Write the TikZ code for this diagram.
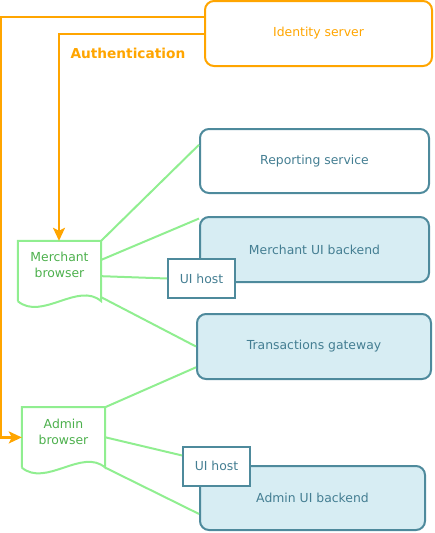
\documentclass[tikz,border=0pt]{standalone}
\usepackage{fontspec}
\setmainfont{DejaVu Sans}
\usepackage{tikz}
\usetikzlibrary{%
  shapes, arrows, calc, positioning, arrows.meta
}
\usepackage{xcolor}
\definecolor{authorange}{HTML}{FFA500}
\definecolor{svcline}{HTML}{4E8A9C}
\definecolor{svctext}{HTML}{447E92}
\definecolor{svcfill}{HTML}{D7EDF3}
\definecolor{webline}{HTML}{90EE90}
\definecolor{webtext}{HTML}{4DB04D}
\tikzstyle{snode} = [%
  rectangle,
  rounded corners=9pt,
  draw=svcline,
  line width=2pt,
  minimum height=64pt,
  align=center,
  text=svctext,
  text centered,
  font=\fontsize{12.4}{16}\selectfont
]
\tikzstyle{hnode} = [%
  rectangle,
  draw=svcline,
  fill=white,
  line width=2pt,
  minimum width=67pt,
  minimum height=39pt,
  text=svctext,
  font=\fontsize{12.4}{16}\selectfont
]
\tikzstyle{bnode} = [%
  rectangle,
  minimum width=83pt,
  minimum height=48pt,
  inner sep=0pt,
  align=center,
  text=webtext,
  font=\fontsize{12.4}{16}\selectfont
]

\begin{document}
\begin{tikzpicture}[%
  x=1pt, y=-1pt,
  web/.style={draw=webline, line width=2pt},
  auth/.style={color=authorange, line width=2.2pt,
    -{Stealth[length=13pt,width=12pt,inset=3pt]}},
  page/.style={draw=webline, line width=2pt}
]
  \useasboundingbox (0,0) rectangle (434,533);

  % Nodes
  \node[snode,draw=authorange,text=authorange,minimum width=227pt,minimum height=65pt] (ids) at (318.5,33.5) {Identity server};
  \node[snode,minimum width=229pt,below=61pt of ids,xshift=-4pt] (rep) {Reporting service};
  \node[snode,fill=svcfill,minimum width=229pt,minimum height=65pt,below=22pt of rep] (mub) {Merchant UI backend};
  \node[snode,fill=svcfill,minimum width=234pt,minimum height=65pt,below=30pt of mub,xshift=-0.5pt] (tg) {Transactions gateway};
  \node[snode,fill=svcfill,minimum width=225pt,below=85pt of tg,xshift=-1.5pt] (aub) {Admin UI backend};
  \node[hnode,xshift=2.5pt,yshift=4.5pt] (mh) at (mub.south west) {UI host};
  \node[hnode,xshift=17.5pt,yshift=-1pt] (ah) at (aub.north west) {UI host};
  \node[bnode] (mb) at (59.5,265) {Merchant\\browser};
  \node[bnode,below=118pt of mb,xshift=4pt] (ab) {Admin\\browser};

  % Browser pages
  \draw[page] ([yshift=-12pt]mb.south west) -- (mb.north west) -- (mb.north east) -- ([yshift=-12pt]mb.south east)
    .. controls +(-23,-20) and +(24,20) .. ([yshift=-12pt]mb.south west);
  \draw[page] ([yshift=-12pt]ab.south west) -- (ab.north west) -- (ab.north east) -- ([yshift=-12pt]ab.south east)
    .. controls +(-23,-20) and +(24,20) .. ([yshift=-12pt]ab.south west);

  % Web edges
  \draw[web] (mb.north east) -- (rep.172);
  \draw[web] (mb.7) -- (mub.165);
  \draw[web] (mb.-15) -- (mh.west);
  \draw[web] ([yshift=-8pt]mb.south east) -- (tg.west);
  \draw[web] (ab.north east) -- (tg.190);
  \draw[web] (ab.-8) -- (ah.163);
  \draw[web] ([yshift=-12pt]ab.south east) -- (aub.188);

  % Authentication edges
  \draw[auth] ([yshift=16.5pt]ids.west) -- ++(-203.5,0) |- ([yshift=-6pt]ab.west);
  \draw[auth] ([yshift=-0.5pt]ids.west) -| ([xshift=-0.5pt]mb.north);
  \node[font=\fontsize{13.7}{16}\selectfont\bfseries,text=authorange,anchor=west] (lbl) at (67,53) {Authentication};

\end{tikzpicture}
\end{document}
